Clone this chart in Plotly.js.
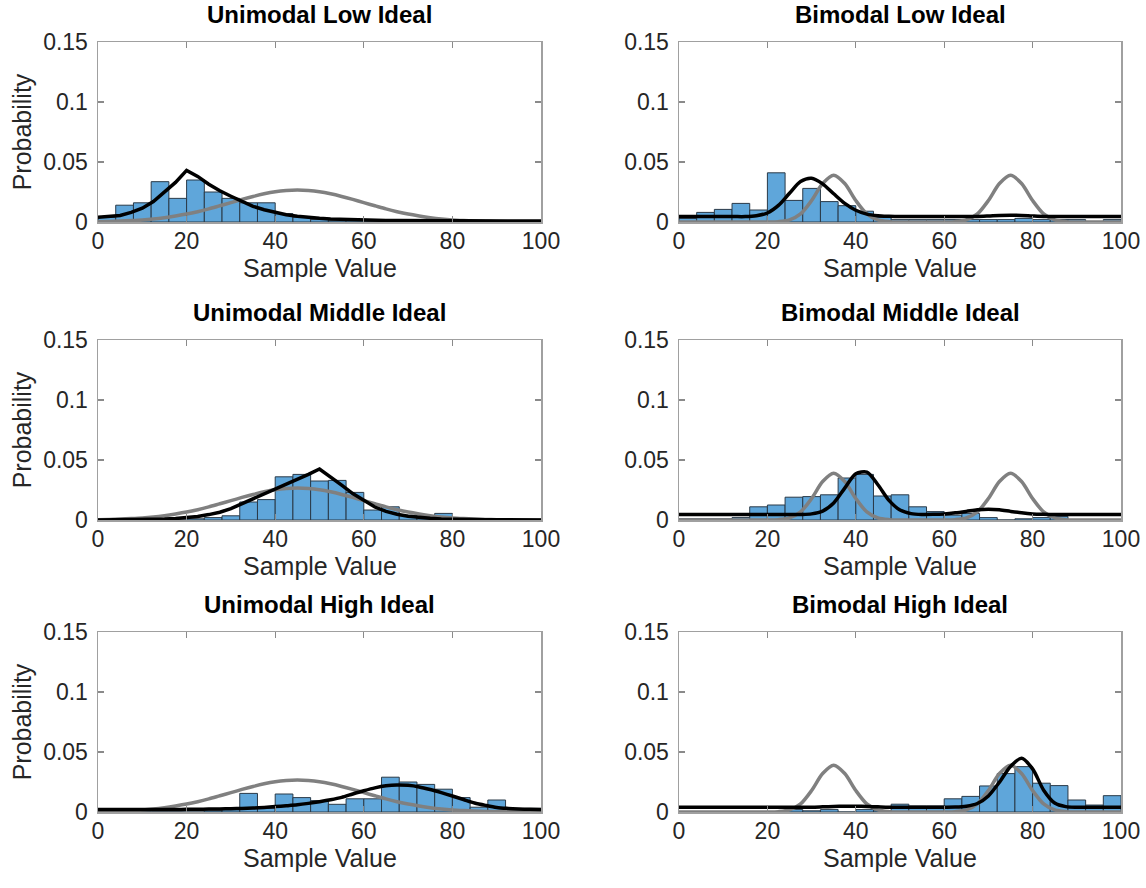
<!DOCTYPE html>
<html><head><meta charset="utf-8">
<script src="https://cdn.plot.ly/plotly-3.0.1.min.js"></script>
<style>html,body{margin:0;padding:0;background:#fff}#chart{width:1146px;height:888px}</style>
</head><body><div id="chart"></div>
<script>
const curveX = [0,2.5,5,7.5,10,12.5,15,17.5,20,22.5,25,27.5,30,32.5,35,37.5,40,42.5,45,47.5,50,
  52.5,55,57.5,60,62.5,65,67.5,70,72.5,75,77.5,80,82.5,85,87.5,90,92.5,95,97.5,100];
// histogram bin centres (bin width 4)
const binCenters = [2,6,10,14,18,22,26,30,34,38,42,46,50,54,58,62,66,70,74,78,82,86,90,94,98];
const xTicks = [0,20,40,60,80,100];
const yTicks = [0,0.05,0.1,0.15];
const yTickText = ['0','0.05','0.1','0.15'];

// ideal (gray) curves
const unimodalIdeal = [0.0003,0.0005,0.0008,0.0012,0.0017,0.0025,0.0036,0.0050,0.0066,0.0086,0.0109,0.0135,0.0161,0.0188,0.0213,0.0235,0.0252,0.0262,0.0266,
  0.0262,0.0252,0.0235,0.0213,0.0188,0.0161,0.0135,0.0109,0.0086,0.0066,0.0050,0.0036,0.0025,0.0017,0.0012,0.0008,0.0005,0.0003,0.0002,0.0001,0.0001,0.0000];
const bimodalIdeal = [0,0,0,0,0,0,0,0,0,0.0003,0.0017,0.0067,0.0179,0.0321,0.0390,0.0321,0.0179,0.0067,0.0017,0.0003,
  0,0,0,0,0,0.0003,0.0017,0.0067,0.0179,0.0321,0.0390,0.0321,0.0179,0.0067,0.0017,0.0003,0,0,0,0,0];

// fitted (black) curves
const uniLowFit = [0.0040,0.0045,0.0055,0.0080,0.0115,0.0170,0.0250,0.0330,0.0430,
  0.0380,0.0315,0.0260,0.0215,0.0170,0.0130,0.0102,0.0078,0.0060,0.0048,0.0038,0.0031,0.0026,0.0022,0.0019,0.0016,
  0.0014,0.0013,0.0012,0.0011,0.0010,0.0010,0.0010,0.0010,0.0010,0.0009,0.0009,0.0009,0.0009,0.0009,0.0009,0.0009];
const biLowFit = [0.0045,0.0045,0.0045,0.0045,0.0045,0.0045,0.0045,
  0.0052,0.0075,0.0138,0.0240,0.0338,0.0365,0.0318,0.0235,0.0155,0.0098,0.0066,0.0053,0.0048,
  0.0045,0.0045,0.0045,0.0045,0.0045,0.0045,0.0045,
  0.0046,0.0050,0.0055,0.0057,0.0055,0.0050,0.0046,
  0.0045,0.0045,0.0045,0.0045,0.0045,0.0045,0.0045];
const uniMidFit = [0.0001,0.0001,0.0002,0.0002,0.0003,0.0005,0.0008,0.0012,0.0020,0.0030,0.0045,0.0065,0.0095,0.0135,0.0175,0.0215,0.0260,0.0300,0.0338,0.0380,0.0425,
  0.0360,0.0290,0.0220,0.0160,0.0108,0.0072,0.0048,0.0032,0.0021,0.0014,0.0009,0.0006,0.0004,0.0003,0.0002,0.0002,0.0001,0.0001,0.0001,0.0001];
const biMidFit = [0.0045,0.0045,0.0045,0.0045,0.0045,0.0045,0.0045,0.0045,0.0045,0.0045,0.0045,
  0.0046,0.0051,0.0074,0.0142,0.0266,0.0385,0.0399,0.0294,0.0164,0.0083,0.0053,0.0046,0.0047,0.0051,0.0060,0.0072,0.0085,0.0090,0.0085,0.0072,0.0060,0.0051,0.0047,
  0.0045,0.0045,0.0045,0.0045,0.0045,0.0045,0.0045];
const uniHighFit = [0.0020,0.0020,0.0020,0.0020,0.0020,0.0020,0.0020,0.0020,
  0.0022,0.0023,0.0024,0.0026,0.0028,0.0030,0.0033,0.0038,0.0045,0.0052,0.0060,0.0072,0.0086,0.0102,0.0122,0.0150,0.0177,0.0201,0.0218,0.0225,
  0.0222,0.0209,0.0187,0.0161,0.0133,0.0104,0.0075,0.0055,0.0038,0.0030,0.0025,0.0022,0.0020];
const biHighFit = [0.0040,0.0040,0.0040,0.0040,0.0040,0.0040,0.0040,0.0040,0.0040,0.0040,0.0040,0.0040,0.0040,
  0.0043,0.0046,0.0048,0.0048,0.0046,0.0043,
  0.0040,0.0040,0.0040,0.0040,0.0040,0.0040,
  0.0041,0.0048,0.0071,0.0134,0.0249,0.0380,0.0447,0.0359,0.0182,0.0075,0.0045,
  0.0040,0.0040,0.0040,0.0040,0.0040];

// histogram bar heights (probability)
const uniLowBars  = [0.004,0.014,0.016,0.0336,0.0197,0.035,0.025,0.0197,0.016,0.016,0.007,0.004,0.002,0.001,0.001,0.0005,0,0,0,0,0,0,0,0,0];
const biLowBars   = [0.003,0.008,0.0105,0.0155,0.010,0.041,0.018,0.028,0.017,0.0136,0.009,0.004,0.002,0.002,0.002,0.002,0.002,0.002,0.002,0.003,0.002,0.002,0.002,0,0.002];
const uniMidBars  = [0,0,0,0,0,0.001,0.002,0.0035,0.015,0.017,0.036,0.038,0.0325,0.033,0.023,0.0083,0.011,0.004,0.002,0.0055,0,0,0,0,0];
const biMidBars   = [0.001,0.001,0.001,0.002,0.011,0.0125,0.019,0.0195,0.021,0.035,0.038,0.020,0.021,0.011,0.007,0.004,0.0055,0.002,0,0.001,0.002,0.003,0,0,0];
const uniHighBars = [0,0,0,0,0,0,0.001,0.002,0.0155,0.003,0.015,0.012,0.0095,0.0064,0.011,0.011,0.029,0.025,0.023,0.019,0.012,0.004,0.010,0.0015,0.003];
const biHighBars  = [0,0,0,0,0,0,0.002,0.001,0.002,0,0.002,0.001,0.0065,0.005,0.005,0.011,0.013,0.0217,0.032,0.0378,0.024,0.022,0.010,0.0058,0.0136];

const panels = [
  {title:'Unimodal Low Ideal',    bars:uniLowBars,  fit:uniLowFit,  ideal:unimodalIdeal, shape:'linear'},
  {title:'Bimodal Low Ideal',     bars:biLowBars,   fit:biLowFit,   ideal:bimodalIdeal,  shape:'spline'},
  {title:'Unimodal Middle Ideal', bars:uniMidBars,  fit:uniMidFit,  ideal:unimodalIdeal, shape:'linear'},
  {title:'Bimodal Middle Ideal',  bars:biMidBars,   fit:biMidFit,   ideal:bimodalIdeal,  shape:'spline'},
  {title:'Unimodal High Ideal',   bars:uniHighBars, fit:uniHighFit, ideal:unimodalIdeal, shape:'spline'},
  {title:'Bimodal High Ideal',    bars:biHighBars,  fit:biHighFit,  ideal:bimodalIdeal,  shape:'spline'}
];

const W = 1146, H = 888;
const colPx = [[98,541],[679,1121]];
const rowPx = [[42,222],[340,520],[632,812]];
const FONT = 'Liberation Sans, Arial, Helvetica, sans-serif';

const traces = [];
const layout = {
  width:W, height:H, margin:{l:0,r:0,t:0,b:0},
  paper_bgcolor:'#fff', plot_bgcolor:'#fff', showlegend:false,
  font:{family:FONT, color:'#262626'},
  annotations:[], barmode:'overlay'
};

panels.forEach((p,i)=>{
  const r = Math.floor(i/2), c = i%2;
  const n = i+1;
  const xa = 'x'+(n===1?'':n), ya = 'y'+(n===1?'':n);
  traces.push({type:'bar', x:binCenters, y:p.bars, width:4, xaxis:xa, yaxis:ya,
    marker:{color:'#5fa6da', line:{color:'#2a3a48', width:1}}, hoverinfo:'skip'});
  traces.push({type:'scatter', mode:'lines', x:curveX, y:p.ideal, xaxis:xa, yaxis:ya,
    line:{color:'#808080', width:3.5, shape:'spline', smoothing:0.8}, hoverinfo:'skip'});
  traces.push({type:'scatter', mode:'lines', x:curveX, y:p.fit, xaxis:xa, yaxis:ya,
    line:{color:'#000000', width:3.5, shape:p.shape, smoothing:0.8}, hoverinfo:'skip'});
  const xd = [colPx[c][0]/W, colPx[c][1]/W];
  const yd = [1-rowPx[r][1]/H, 1-rowPx[r][0]/H];
  const common = {showgrid:false, zeroline:false, showline:true, linecolor:'#a0a0a0', linewidth:1.5,
    mirror:'ticks', ticks:'inside', ticklen:6, tickwidth:1.2, tickcolor:'#8a8a8a',
    tickfont:{size:23, color:'#262626', family:FONT}, fixedrange:true};
  layout['xaxis'+(n===1?'':n)] = Object.assign({}, common, {domain:xd, anchor:ya, range:[0,100],
    tickmode:'array', tickvals:xTicks, ticktext:xTicks.map(String), ticklabelstandoff:-2});
  layout['yaxis'+(n===1?'':n)] = Object.assign({}, common, {domain:yd, anchor:xa, range:[0,0.15],
    tickmode:'array', tickvals:yTicks, ticktext:yTickText, ticklabelstandoff:4,
    title: c===0 ? {text:'Probability', font:{size:25, color:'#262626', family:FONT}, standoff:4} : {text:''}});
  // x-axis label, placed just under the tick labels
  layout.annotations.push({xref:'paper', yref:'paper', x:(xd[0]+xd[1])/2, y:yd[0], yanchor:'middle', xanchor:'center',
    yshift:-46, showarrow:false, text:'Sample Value', font:{size:25, color:'#262626', family:FONT}});
  // panel title
  layout.annotations.push({xref:'paper', yref:'paper', x:(xd[0]+xd[1])/2, y:yd[1], yanchor:'bottom', xanchor:'center',
    yshift:12, showarrow:false, text:'<b>'+p.title+'</b>', font:{size:24, color:'#000', family:FONT}});
});

Plotly.newPlot('chart', traces, layout, {displayModeBar:false, staticPlot:true});
</script>
</body></html>
